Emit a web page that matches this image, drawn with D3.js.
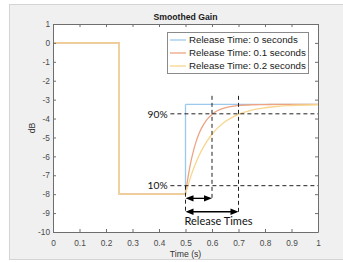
<!DOCTYPE html>
<html>
<head>
<script src="https://cdn.jsdelivr.net/npm/d3@7"></script>
<style>
  body { margin: 0; background: #fff; }
  svg { display: block; }
</style>
</head>
<body>
<svg id="chart" width="343" height="262"></svg>
<script>
// input gain: 0 dB, drop to -8 dB at 0.25 s, release at 0.5 s
const stepTime = [0, 0.25, 0.25, 0.5];
const stepGain = [0, 0, -8, -8];

// release part of the smoothed gain
const releaseTime = [0.5, 0.51, 0.52, 0.53, 0.54, 0.55, 0.56, 0.58, 0.6, 0.62, 0.65, 0.7, 0.75, 0.8, 0.85, 0.9, 1.0];
const gainRelease0 = [-3.25, -3.25, -3.25, -3.25, -3.25, -3.25, -3.25, -3.25, -3.25, -3.25, -3.25, -3.25, -3.25, -3.25, -3.25, -3.25, -3.25];
const gainRelease01 = [-8, -7.06, -6.31, -5.71, -5.22, -4.83, -4.52, -4.07, -3.78, -3.59, -3.43, -3.31, -3.27, -3.26, -3.25, -3.25, -3.25];
const gainRelease02 = [-8, -7.51, -7.06, -6.67, -6.31, -5.99, -5.71, -5.22, -4.83, -4.52, -4.16, -3.78, -3.55, -3.43, -3.35, -3.31, -3.27];

const seriesNames = ["Release Time: 0 seconds", "Release Time: 0.1 seconds", "Release Time: 0.2 seconds"];
const seriesColors = ["#9dc9ec", "#eda485", "#f7d68f"];

const xTicks = [0, 0.1, 0.2, 0.3, 0.4, 0.5, 0.6, 0.7, 0.8, 0.9, 1];
const yTicks = [-10, -9, -8, -7, -6, -5, -4, -3, -2, -1, 0, 1];

// annotation levels
const level90 = -3.75;
const level10 = -7.55;

const svg = d3.select("#chart");

// figure background
svg.append("rect")
    .attr("x", 9.5).attr("y", 4.5)
    .attr("width", 340).attr("height", 255)
    .attr("fill", "#f0f0f0")
    .attr("stroke", "#d4d4d4");

const pLeft = 53, pRight = 318, pTop = 24, pBottom = 232;
const x = d3.scaleLinear().domain([0, 1]).range([pLeft, pRight]);
const y = d3.scaleLinear().domain([-10, 1]).range([pBottom, pTop]);

svg.append("rect")
    .attr("x", pLeft).attr("y", pTop)
    .attr("width", pRight - pLeft).attr("height", pBottom - pTop)
    .attr("fill", "#fff");

svg.append("defs").append("clipPath").attr("id", "clip")
    .append("rect")
    .attr("x", pLeft).attr("y", pTop)
    .attr("width", pRight - pLeft).attr("height", pBottom - pTop);

const plot = svg.append("g").attr("clip-path", "url(#clip)");

const stepLine = d3.line().x(d => x(d[0])).y(d => y(d[1]));
const smoothLine = d3.line().x(d => x(d[0])).y(d => y(d[1])).curve(d3.curveMonotoneX);

const releaseSeries = [gainRelease0, gainRelease01, gainRelease02];

releaseSeries.forEach((g, i) => {
    const stepPts = stepTime.map((t, j) => [t, stepGain[j]]);
    const relPts = releaseTime.map((t, j) => [t, g[j]]);
    plot.append("path")
        .datum(stepPts.concat([relPts[0]]))
        .attr("d", stepLine)
        .attr("fill", "none")
        .attr("stroke", seriesColors[i])
        .attr("stroke-width", 1.3);
    plot.append("path")
        .datum(relPts)
        .attr("d", smoothLine)
        .attr("fill", "none")
        .attr("stroke", seriesColors[i])
        .attr("stroke-width", 1.3);
});

// annotations
const dash = "4,3";
const ann = svg.append("g").attr("stroke", "#222").attr("stroke-width", 1).attr("fill", "none");
ann.append("line").attr("x1", x(0.443)).attr("x2", x(1)).attr("y1", y(level90)).attr("y2", y(level90)).attr("stroke-dasharray", dash);
ann.append("line").attr("x1", x(0.443)).attr("x2", x(1)).attr("y1", y(level10)).attr("y2", y(level10)).attr("stroke-dasharray", dash);
ann.append("line").attr("x1", x(0.6)).attr("x2", x(0.6)).attr("y1", y(-2.8)).attr("y2", y(-8.22)).attr("stroke-dasharray", dash);
ann.append("line").attr("x1", x(0.7)).attr("x2", x(0.7)).attr("y1", y(-2.8)).attr("y2", y(-8.95)).attr("stroke-dasharray", dash);
ann.append("line").attr("x1", x(0.5)).attr("x2", x(0.5)).attr("y1", y(level10)).attr("y2", y(-8.95)).attr("stroke-dasharray", dash);

function arrow(t0, t1, v) {
    const y0 = y(v), xa = x(t0), xb = x(t1);
    const g = svg.append("g");
    g.append("line").attr("x1", xa + 4).attr("x2", xb - 4).attr("y1", y0).attr("y2", y0)
        .attr("stroke", "#000").attr("stroke-width", 1.3);
    g.append("path").attr("d", `M${xa},${y0}L${xa + 8},${y0 - 3.2}L${xa + 8},${y0 + 3.2}Z`).attr("fill", "#000");
    g.append("path").attr("d", `M${xb},${y0}L${xb - 8},${y0 - 3.2}L${xb - 8},${y0 + 3.2}Z`).attr("fill", "#000");
}
arrow(0.5, 0.6, -8.22);
arrow(0.5, 0.7, -8.93);

// annotation text, sized to the widths seen in the picture
const annFont = "Lato, 'Open Sans', sans-serif";
function annText(tx, ty, anchor, label, targetWidth) {
    const t = svg.append("text").attr("x", tx).attr("y", ty).attr("text-anchor", anchor)
        .attr("font-family", annFont).attr("font-size", 10).attr("fill", "#111").text(label);
    const w = t.node().getComputedTextLength();
    if (w > 0) t.attr("font-size", 10 * targetWidth / w);
}
annText(x(0.44) - 2, y(level90) + 3.8, "end", "90%", 20);
annText(x(0.44) - 2, y(level10) + 3.8, "end", "10%", 20);
annText(x(0.5) - 1, y(-9.65), "start", "Release Times", 68);

// axes
const font = "Arial, 'Liberation Sans', sans-serif";
function styleAxis(g) {
    g.selectAll("path, line").attr("stroke", "#6e6e6e");
    g.selectAll("text").attr("fill", "#4a4a4a").attr("font-family", font).attr("font-size", 8.3);
}
svg.append("g").attr("transform", `translate(0,${pBottom})`)
    .call(d3.axisBottom(x).tickValues(xTicks).tickFormat(d3.format("~g")).tickSizeInner(-3).tickSizeOuter(0).tickPadding(8))
    .call(styleAxis);
svg.append("g").attr("transform", `translate(0,${pTop})`)
    .call(d3.axisTop(x).tickValues(xTicks).tickFormat("").tickSizeInner(-3).tickSizeOuter(0))
    .call(styleAxis);
svg.append("g").attr("transform", `translate(${pLeft},0)`)
    .call(d3.axisLeft(y).tickValues(yTicks).tickFormat(d => String(d)).tickSizeInner(-3).tickSizeOuter(0).tickPadding(3))
    .call(styleAxis);
svg.append("g").attr("transform", `translate(${pRight},0)`)
    .call(d3.axisRight(y).tickValues(yTicks).tickFormat("").tickSizeInner(-3).tickSizeOuter(0))
    .call(styleAxis);

// title and labels
svg.append("text").attr("x", (pLeft + pRight) / 2).attr("y", 20).attr("text-anchor", "middle")
    .attr("font-family", font).attr("font-size", 8.7).attr("font-weight", "bold").attr("fill", "#1a1a1a")
    .text("Smoothed Gain");
svg.append("text").attr("x", (pLeft + pRight) / 2).attr("y", 257).attr("text-anchor", "middle")
    .attr("font-family", font).attr("font-size", 8.7).attr("fill", "#333")
    .text("Time (s)");
svg.append("text").attr("transform", `translate(35,${(pTop + pBottom) / 2}) rotate(-90)`).attr("text-anchor", "middle")
    .attr("font-family", font).attr("font-size", 8.7).attr("fill", "#333")
    .text("dB");

// legend
const lg = svg.append("g");
lg.append("rect").attr("x", 167.5).attr("y", 32.5).attr("width", 141).attr("height", 41)
    .attr("fill", "#fff").attr("stroke", "#8a8a8a");
seriesNames.forEach((name, i) => {
    const yy = 40 + i * 13;
    lg.append("line").attr("x1", 170).attr("x2", 186).attr("y1", yy).attr("y2", yy)
        .attr("stroke", seriesColors[i]).attr("stroke-width", 1.3);
    lg.append("text").attr("x", 189).attr("y", yy + 3.4)
        .attr("font-family", font).attr("font-size", 9.7).attr("fill", "#1a1a1a").text(name);
});
</script>
</body>
</html>
